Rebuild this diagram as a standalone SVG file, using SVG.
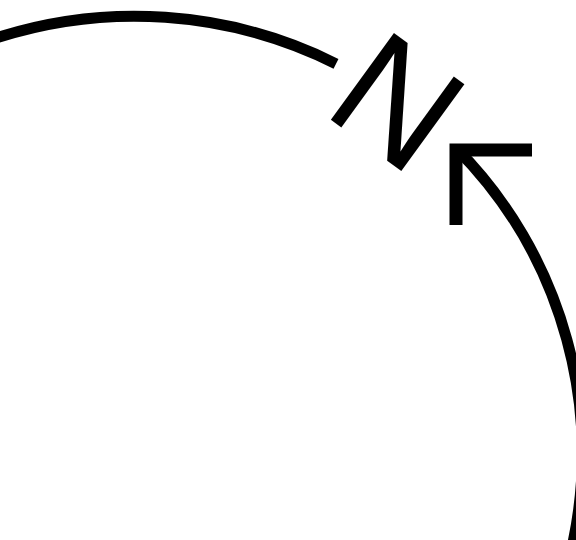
<svg xmlns="http://www.w3.org/2000/svg" width="576" height="540" viewBox="0 0 576 540">
  <style>
    .ring { fill: none; stroke: #000; stroke-width: 11; stroke-linecap: butt; }
    .head { fill: none; stroke: #000; stroke-width: 13; stroke-linecap: butt; stroke-linejoin: miter; }
    .label { font-family: "Liberation Sans", Arial, sans-serif; font-size: 156px; fill: #000; }
  </style>
  <rect width="576" height="540" fill="#fff"/>
  <g id="connectors">
    <path class="ring" d="M -10,40.1 A 451 451 0 0 1 336,63.8"/>
    <path class="ring" d="M 456,148 A 434 434 0 0 1 569,560"/>
    <polyline class="head" points="532,150 456,150 456,225"/>
  </g>
  <g id="north-label" transform="translate(399,100) rotate(36)">
    <text class="label" x="0" y="56" text-anchor="middle">N</text>
  </g>
</svg>
